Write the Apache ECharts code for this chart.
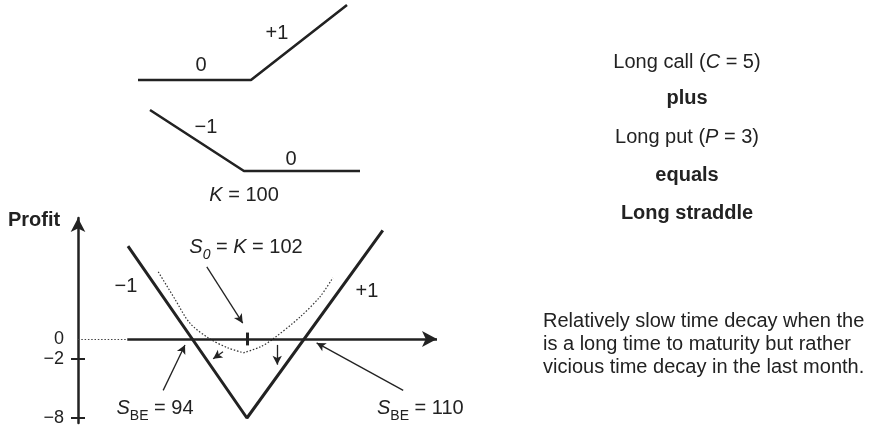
<!DOCTYPE html>
<html><head><meta charset="utf-8">
<script src="https://cdn.jsdelivr.net/npm/echarts@6/dist/echarts.min.js"></script>
<style>html,body{margin:0;padding:0;background:#fff}#c{width:880px;height:427px}</style>
</head><body><div id="c"></div>
<script>
// ---- data ----
const callPrice = [80, 100, 117];
const callPayoff = [0, 0, 17];
const putPrice = [83, 100, 121];
const putPayoff = [17, 0, 0];
const straddlePrice = [85.1, 102, 121.3];
const straddleProfit = [9.4, -8, 11];
const decayLeftPrice = [89.4, 91.8, 93.9, 96.75, 99.3, 101.5];
const decayLeftProfit = [6.8, 4.0, 1.6, 0, -0.9, -1.4];
const decayRightPrice = [101.5, 103.9, 105.7, 109.5, 112.4, 114.2];
const decayRightProfit = [-1.4, -0.8, 0, 2.2, 4.3, 6.2];
const priceRange = [78, 129];
const profitRange = [-8.5, 12.25];
const axisSolidStart = 85;
const strike = 102;
const yTickValues = [0, -2, -8];
const yTickMarks = [-2, -8];
// annotation arrows: [fromPrice, fromProfit, toPrice, toProfit]
const arrowS0 = [96.3, 7.3, 101.4, 1.6];
const arrowDecayL = [98.6, -1.3, 97.2, -2.0];
const arrowDecayR = [106.3, -0.6, 106.3, -2.6];
const arrowBE94 = [90.1, -5.2, 93.2, -0.6];
const arrowBE110 = [124.2, -5.2, 111.9, -0.4];

const FONT = "'Liberation Sans', Arial, Helvetica, sans-serif";
const INK = '#222';
const zip = (a, b) => a.map((v, i) => [v, b[i]]);
const arrowLine = a => [{coord: [a[0], a[1]]}, {coord: [a[2], a[3]]}];

const chart = echarts.init(document.getElementById('c'), null, {renderer: 'canvas'});

function txt(x, y, text, opts) {
  opts = opts || {};
  return {
    type: 'text', x: x, y: y, silent: true,
    style: Object.assign({
      text: text, fill: INK,
      font: (opts.weight || 'normal') + ' ' + (opts.size || 20) + 'px ' + FONT,
      align: opts.align || 'center', verticalAlign: 'middle',
      rich: {
        i: {fontStyle: 'italic', fontSize: opts.size || 20, fontFamily: FONT, fill: INK, lineHeight: 20, verticalAlign: 'middle'},
        n: {fontSize: opts.size || 20, fontFamily: FONT, fill: INK, lineHeight: 20, verticalAlign: 'middle'},
        sub: {fontSize: 14, fontFamily: FONT, fill: INK, lineHeight: 30, verticalAlign: 'bottom'},
        isub: {fontSize: 14, fontStyle: 'italic', fontFamily: FONT, fill: INK, lineHeight: 30, verticalAlign: 'bottom'}
      }
    }, opts.style || {})
  };
}

const tickAxisBase = {type: 'value', gridIndex: 2, position: 'left', offset: 0,
  min: profitRange[0], max: profitRange[1], splitLine: {show: false}};

const option = {
  animation: false,
  backgroundColor: '#fff',
  grid: [
    {left: 138, top: 5, width: 209, height: 75},
    {left: 150, top: 110, width: 210, height: 61},
    {left: 78, top: 218, width: 359, height: 205}
  ],
  xAxis: [
    {type: 'value', gridIndex: 0, min: callPrice[0], max: callPrice[2], show: false},
    {type: 'value', gridIndex: 1, min: putPrice[0], max: putPrice[2], show: false},
    {type: 'value', gridIndex: 2, min: priceRange[0], max: priceRange[1], show: false}
  ],
  yAxis: [
    {type: 'value', gridIndex: 0, min: 0, max: 17, show: false},
    {type: 'value', gridIndex: 1, min: 0, max: 17, show: false},
    Object.assign({}, tickAxisBase, {
      axisLine: {show: true, onZero: false, symbol: ['none', 'arrow'], symbolSize: [11, 14],
        lineStyle: {color: INK, width: 2.5}},
      axisTick: {show: true, inside: false, customValues: yTickMarks, length: 7, lineStyle: {color: INK, width: 2}},
      axisLabel: {show: true, customValues: yTickValues, margin: 14, color: INK, fontSize: 18, fontFamily: FONT,
        formatter: v => (v < 0 ? '\u2212' + Math.abs(v) : String(v))}
    }),
    Object.assign({}, tickAxisBase, {
      axisLine: {show: false, onZero: false},
      axisLabel: {show: false},
      axisTick: {show: true, inside: true, customValues: yTickMarks, length: 7, lineStyle: {color: INK, width: 2}}
    })
  ],
  series: [
    {type: 'line', xAxisIndex: 0, yAxisIndex: 0, data: zip(callPrice, callPayoff), showSymbol: false, clip: false,
      lineStyle: {color: INK, width: 2.6}},
    {type: 'line', xAxisIndex: 1, yAxisIndex: 1, data: zip(putPrice, putPayoff), showSymbol: false, clip: false,
      lineStyle: {color: INK, width: 2.6}},
    {type: 'line', xAxisIndex: 2, yAxisIndex: 2, data: zip(decayLeftPrice, decayLeftProfit), showSymbol: false, clip: false,
      smooth: 0.3, lineStyle: {color: '#333', width: 1.2, type: [1.5, 1.8]}},
    {type: 'line', xAxisIndex: 2, yAxisIndex: 2, data: zip(decayRightPrice, decayRightProfit), showSymbol: false, clip: false,
      smooth: 0.3, lineStyle: {color: '#333', width: 1.2, type: [1.5, 1.8]}},
    {type: 'line', xAxisIndex: 2, yAxisIndex: 2, data: zip(straddlePrice, straddleProfit), showSymbol: false, clip: false,
      lineStyle: {color: INK, width: 3}},
    // axis line with arrow, dotted extension, strike tick
    {type: 'line', xAxisIndex: 2, yAxisIndex: 2, data: [], silent: true,
      markLine: {silent: true, animation: false, label: {show: false}, emphasis: {disabled: true},
        data: [
          [{coord: [axisSolidStart, 0], symbol: 'none', lineStyle: {color: INK, width: 2.6, type: 'solid'}},
           {coord: [priceRange[1], 0], symbol: 'arrow', symbolSize: [12, 15]}],
          [{coord: [priceRange[0], 0], symbol: 'none', lineStyle: {color: '#444', width: 1.2, type: [1.5, 1.8]}},
           {coord: [axisSolidStart, 0], symbol: 'none'}],
          [{coord: [strike, -0.65], symbol: 'none', lineStyle: {color: INK, width: 3, type: 'solid'}},
           {coord: [strike, 0.65], symbol: 'none'}]
        ]}
    },
    // annotation arrows
    {type: 'line', xAxisIndex: 2, yAxisIndex: 2, data: [], silent: true,
      markLine: {silent: true, animation: false, label: {show: false}, emphasis: {disabled: true},
        symbol: ['none', 'arrow'], symbolSize: [7, 9],
        lineStyle: {color: INK, width: 1.3, type: 'solid'},
        data: [arrowLine(arrowS0), arrowLine(arrowBE94), arrowLine(arrowBE110)]}
    },
    {type: 'line', xAxisIndex: 2, yAxisIndex: 2, data: [], silent: true,
      markLine: {silent: true, animation: false, label: {show: false}, emphasis: {disabled: true},
        symbol: ['none', 'arrow'], symbolSize: [7, 9],
        lineStyle: {color: INK, width: 1.3, type: 'solid'},
        data: [arrowLine(arrowDecayL), arrowLine(arrowDecayR)]}
    }
  ],
  graphic: [
    // top payoff labels
    txt(201, 65, '0'),
    txt(277, 33, '+1'),
    txt(206, 127, '\u22121'),
    txt(291, 159, '0'),
    txt(244, 195, '{i|K}{n| = 100}'),
    // bottom chart labels
    txt(34, 220, 'Profit', {weight: 'bold'}),
    txt(246, 247, '{i|S}{isub|0}{n| = }{i|K}{n| = 102}'),
    txt(126, 286, '\u22121'),
    txt(367, 291, '+1'),
    txt(155, 408, '{i|S}{sub|BE}{n| = 94}'),
    txt(377, 408, '{i|S}{sub|BE}{n| = 110}', {align: 'left'}),
    // right block
    txt(687, 62, '{n|Long call (}{i|C}{n| = 5)}'),
    txt(687, 98, 'plus', {weight: 'bold'}),
    txt(687, 137, '{n|Long put (}{i|P}{n| = 3)}'),
    txt(687, 175, 'equals', {weight: 'bold'}),
    txt(687, 213, 'Long straddle', {weight: 'bold'}),
    txt(543, 321, 'Relatively slow time decay when the', {align: 'left'}),
    txt(543, 344, 'is a long time to maturity but rather', {align: 'left'}),
    txt(543, 367, 'vicious time decay in the last month.', {align: 'left'})
  ]
};
chart.setOption(option);
</script>
</body></html>
